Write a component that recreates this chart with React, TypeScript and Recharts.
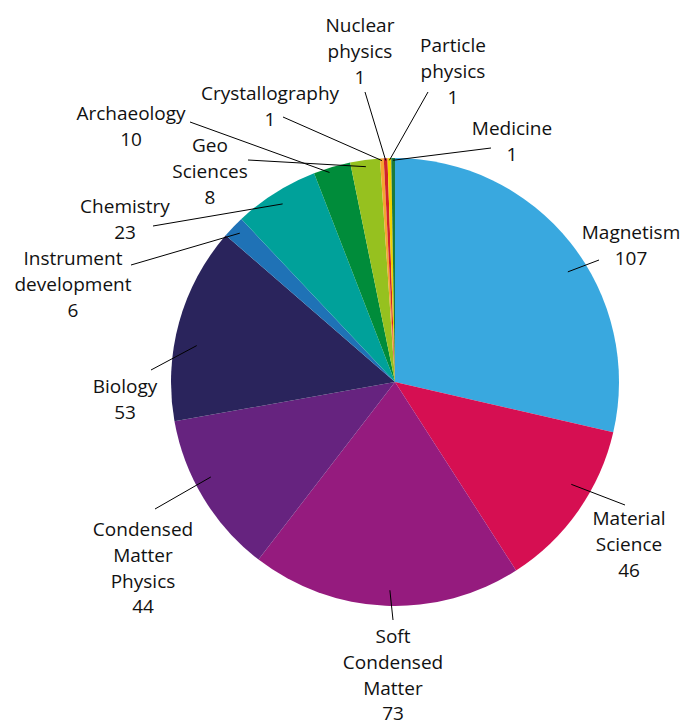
import { PieChart, Pie, Cell } from "recharts";

// Beam-time proposals per research field
const fields = [
  "Magnetism",
  "Material\nScience",
  "Soft\nCondensed\nMatter",
  "Condensed\nMatter\nPhysics",
  "Biology",
  "Instrument\ndevelopment",
  "Chemistry",
  "Archaeology",
  "Geo\nSciences",
  "Crystallography",
  "Nuclear\nphysics",
  "Particle\nphysics",
  "Medicine",
];

const proposals = [107, 46, 73, 44, 53, 6, 23, 10, 8, 1, 1, 1, 1];

const colors = [
  "#39a8df",
  "#d60f52",
  "#951b7e",
  "#66237f",
  "#2a245c",
  "#1f72b6",
  "#00a19a",
  "#008c3a",
  "#96c11f",
  "#f5a531",
  "#d1232a",
  "#efd300",
  "#1c7a3c",
];

// label block (first line centre) and leader start, relative to the pie centre
const labelAt = [
  [236, -150],
  [234, 136],
  [-2, 254],
  [-252, 147],
  [-270, 4],
  [-322, -124],
  [-270, -176],
  [-264, -269],
  [-185, -237],
  [-125, -289],
  [-35, -357],
  [58, -337],
  [117, -254],
];

const leaderFrom = [
  [204, -122],
  [230, 123],
  [-2, 238],
  [-240, 127],
  [-244, -12],
  [-264, -117],
  [-242, -156],
  [-205, -260],
  [-147, -222],
  [-112, -265],
  [-30, -290],
  [33, -290],
  [96, -234],
];

// leader tip: fraction of the radius, clockwise nudge in degrees
const leaderTip = [
  [0.915, 6],
  [0.91, -5],
  [0.93, -1],
  [0.925, 4],
  [0.9, -5],
  [0.96, 0],
  [0.94, 0],
  [0.98, -1],
  [0.97, 0],
  [0.99, 0],
  [0.99, 0],
  [0.99, 0],
  [0.99, 0],
];

const data = fields.map((name, i) => ({ name, value: proposals[i] }));

const RAD = Math.PI / 180;
const LINE = 25.8;

function renderLabel(props: any) {
  const { cx, cy, midAngle, outerRadius, index, value } = props;
  const [fr, shift] = leaderTip[index];
  const a = (midAngle - shift) * RAD;
  const tx = cx + outerRadius * fr * Math.cos(a);
  const ty = cy - outerRadius * fr * Math.sin(a);
  const [lx, ly] = labelAt[index];
  const [sx, sy] = leaderFrom[index];
  const lines = [...fields[index].split("\n"), String(value)];
  return (
    <g key={`lbl-${index}`}>
      <line x1={cx + sx} y1={cy + sy} x2={tx} y2={ty} stroke="#000" strokeWidth={1} />
      <text
        x={cx + lx}
        y={cy + ly}
        textAnchor="middle"
        dominantBaseline="central"
        fontFamily="'Open Sans', sans-serif"
        fontSize={19}
        fill="#111"
      >
        {lines.map((t, k) => (
          <tspan key={k} x={cx + lx} y={cy + ly + k * LINE}>
            {t}
          </tspan>
        ))}
      </text>
    </g>
  );
}

export default function App() {
  return (
    <div style={{ position: "absolute", left: 0, top: 0, background: "#fff" }}>
      <PieChart width={683} height={720} margin={{ top: 0, right: 0, bottom: 0, left: 0 }}>
        <Pie
          data={data}
          dataKey="value"
          nameKey="name"
          cx={395}
          cy={382}
          outerRadius={224}
          startAngle={90}
          endAngle={-270}
          stroke="none"
          label={renderLabel}
          labelLine={false}
          isAnimationActive={false}
        >
          {data.map((d, i) => (
            <Cell key={d.name} fill={colors[i]} />
          ))}
        </Pie>
      </PieChart>
    </div>
  );
}
